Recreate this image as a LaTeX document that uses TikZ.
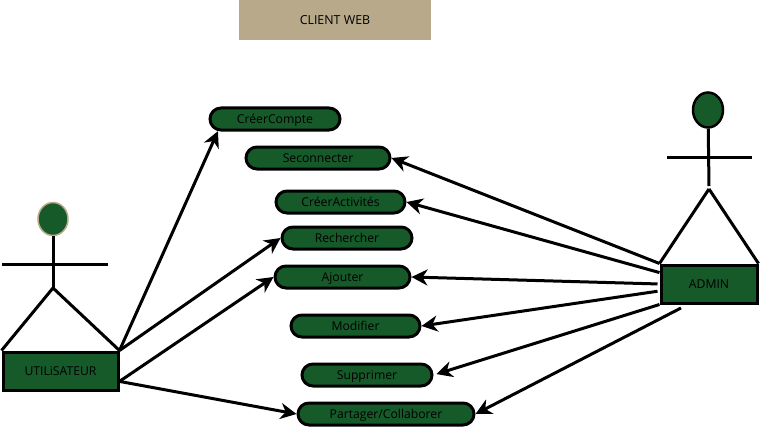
\documentclass[tikz,border=0pt]{standalone}
\usepackage{fontspec}
\setmainfont{Open Sans}
\usepackage{xcolor}
\usepackage{tikz}
\usetikzlibrary{arrows.meta,shapes.geometric,shapes.misc}
\definecolor{darkgreen}{HTML}{165A2A}
\definecolor{titletan}{HTML}{B8A98A}

\begin{document}
\begin{tikzpicture}[x=1pt,y=-1pt,
			label text/.style={text height=10pt, text depth=1pt},
			usecase/.style={draw, rounded rectangle, line width=3pt, fill=darkgreen, minimum height=22pt, inner sep=0pt, label text, font=\fontsize{12.2}{14}\selectfont},
			actorbox/.style={draw, rectangle, line width=3pt, fill=darkgreen, inner sep=0pt, label text, font=\fontsize{12.2}{14}\selectfont},
			head/.style={draw, ellipse, fill=darkgreen, inner sep=0pt},
			limb/.style={line width=3pt},
			arrow/.style={-{Stealth[length=16pt,width=16pt,inset=5pt]}, line width=3pt}]

			\useasboundingbox (0,0) rectangle (761,428);

			\node[fill=titletan, minimum width=192pt, minimum height=40pt, inner sep=0pt, label text, font=\fontsize{12.4}{14}\selectfont] (title) at (335,20) {CLIENT WEB};

			% use cases
			\node[usecase, minimum width=130pt] (compte) at (275,119) {CréerCompte};
			\node[usecase, minimum width=144pt] (connecter) at (318,158) {Seconnecter};
			\node[usecase, minimum width=129pt] (activites) at (340.5,202) {CréerActivités};
			\node[usecase, minimum width=130pt] (rechercher) at (347,238) {Rechercher};
			\node[usecase, minimum width=135pt] (ajouter) at (342.5,277) {Ajouter};
			\node[usecase, minimum width=129pt] (modifier) at (355.5,326) {Modifier};
			\node[usecase, minimum width=130pt] (supprimer) at (367,375) {Supprimer};
			\node[usecase, minimum width=176pt] (partager) at (386,414) {Partager/Collaborer};

			% left actor
			\node[actorbox, minimum width=115pt, minimum height=38pt] (user) at (60.5,371) {UTILiSATEUR};
			\node[head, draw=titletan, line width=1.5pt, minimum width=30pt, minimum height=33pt] (userhead) at (53,219) {};
			\coordinate (userhip) at (53,288);
			\coordinate (userarml) at (2,264);
			\coordinate (userarmr) at (108,264);
			\draw[limb] (userhead) -- (userhip);
			\draw[limb] (userarml) -- (userarmr);
			\draw[limb] (userhip) -- (user.north west);
			\draw[limb] (userhip) -- (user.north east);

			% right actor
			\node[actorbox, minimum width=96pt, minimum height=38pt] (admin) at (709,284) {ADMIN};
			\node[head, line width=2.5pt, minimum width=30pt, minimum height=35pt] (adminhead) at (708,110) {};
			\coordinate (adminneck) at (709,186);
			\coordinate (adminhip) at (709,189);
			\coordinate (adminarml) at (667,157);
			\coordinate (adminarmr) at (752,157);
			\coordinate (adminfree) at (681,308);
			\draw[limb] (adminhead) -- (adminneck);
			\draw[limb] (adminarml) -- (adminarmr);
			\draw[limb] (adminhip) -- (admin.north west);
			\draw[limb] (adminhip) -- (admin.north east);

			\draw[arrow] (user.north east) -- (compte.192);
			\draw[arrow] (user.north east) -- (rechercher.west);
			\draw[arrow] (user.-10) -- (ajouter.west);
			\draw[arrow] (user.-10) -- (partager.west);

			\draw[arrow] (admin.north west) -- (connecter.east);
			\draw[arrow] (admin.167) -- (activites.east);
			\draw[arrow, shorten <=2pt] (admin.west) -- (ajouter.east);
			\draw[arrow, shorten <=2pt] (admin.188) -- (modifier.east);
			\draw[arrow, shorten >=3pt] (admin.south west) -- (supprimer.east);
			\draw[arrow] (adminfree) -- (partager.east);

		\end{tikzpicture}
\end{document}
